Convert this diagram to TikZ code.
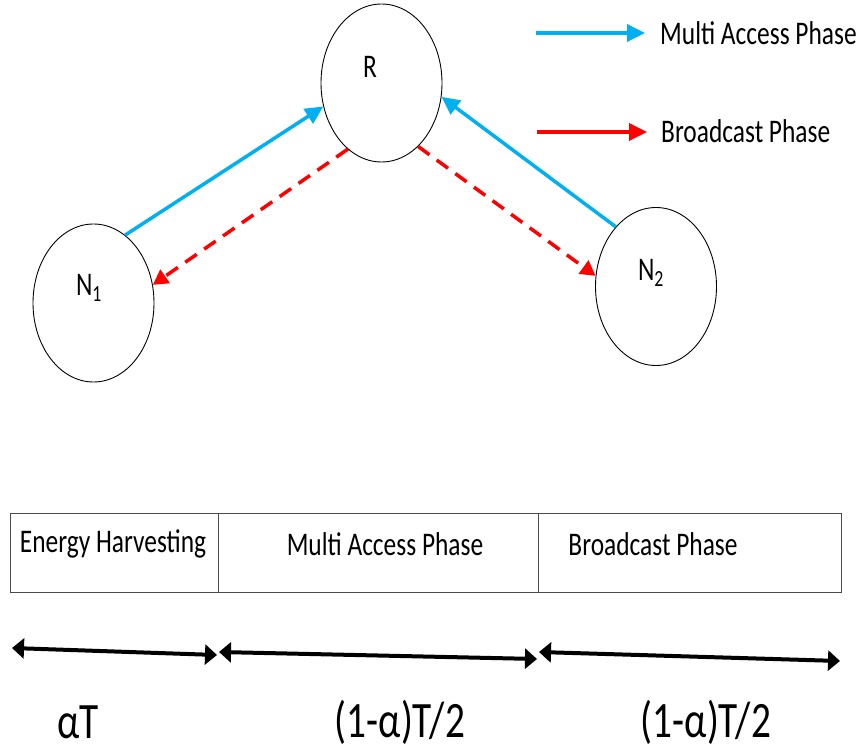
\documentclass[tikz,border=0pt]{standalone}
\usepackage{fontspec}
\setmainfont{Carlito}[FakeStretch=0.77]
\usetikzlibrary{arrows.meta,shapes.geometric}
\definecolor{mablue}{RGB}{0,176,240}
\definecolor{bcred}{RGB}{255,0,0}
\begin{document}
\begin{tikzpicture}[x=1pt,y=-1pt,
 nodeell/.style={draw=black, line width=0.9pt, ellipse, minimum width=121pt, minimum height=158pt, inner sep=0pt},
 lbl/.style={font=\fontsize{33}{40}\selectfont, inner sep=0pt},
 big/.style={font=\fontsize{51}{60}\selectfont, inner sep=0pt},
 maarrow/.style={draw=mablue, line width=3.5pt, -{Triangle[length=18pt,width=17pt]}},
 bcarrow/.style={draw=bcred, line width=3.5pt, dash pattern=on 14pt off 9pt, -{Triangle[length=15pt,width=16pt]}},
 legred/.style={draw=bcred, line width=3.5pt, -{Triangle[length=18pt,width=17pt]}},
 cell/.style={draw=black!70, line width=0.9pt, rectangle, minimum height=79pt, inner sep=0pt},
 timearrow/.style={draw=black, line width=4pt, {Triangle[length=12pt,width=20pt]}-{Triangle[length=12pt,width=20pt]}}]
\useasboundingbox (0,0) rectangle (862,754);

% nodes
\node[nodeell] (R) at (381.5,83) {};
\node[lbl] (Rlab) at (370,67) {R};
\node[nodeell] (N1) at (93.5,303) {};
\node[lbl] (N1lab) at (89,288) {N\textsubscript{1}};
\node[nodeell] (N2) at (656,286.5) {};
\node[lbl] (N2lab) at (651,273) {N\textsubscript{2}};

% links
\draw[maarrow] (N1.65) -- (R.202);
\draw[maarrow] (N2.124) -- (R.347);
\draw[bcarrow] (R.243) -- (N1.17);
\draw[bcarrow] (R.300) -- (N2.170);

% legend
\coordinate (lma1) at (536,33);
\coordinate (lma2) at (645,33);
\node[lbl, anchor=west] (lmat) at (660,33) {Multi Access Phase};
\draw[maarrow] (lma1) -- (lma2);
\coordinate (lbc1) at (537,132);
\coordinate (lbc2) at (647,132);
\node[lbl, anchor=west] (lbct) at (661,131) {Broadcast Phase};
\draw[legred] (lbc1) -- (lbc2);

% time frame
\node[cell, minimum width=208pt] (c1) at (114,552.5) {};
\node[cell, minimum width=320pt] (c2) at (378,552.5) {};
\node[cell, minimum width=303pt] (c3) at (689.5,552.5) {};
\node[lbl] (t1) at (113,544) {Energy Harvesting};
\node[lbl] (t2) at (385,544) {Multi Access Phase};
\node[lbl] (t3) at (653,544) {Broadcast Phase};

% durations
\coordinate (a1) at (12,648);
\coordinate (a2) at (217,655);
\coordinate (b1) at (219,652);
\coordinate (b2) at (537,659);
\coordinate (d1) at (539,652);
\coordinate (d2) at (840,661);
\draw[timearrow] (a1) -- (a2);
\draw[timearrow] (b1) -- (b2);
\draw[timearrow] (d1) -- (d2);
\node[big] (l1) at (78,722) {αT};
\node[big] (l2) at (400,722) {(1-α)T/2};
\node[big] (l3) at (706,722) {(1-α)T/2};
\end{tikzpicture}
\end{document}
